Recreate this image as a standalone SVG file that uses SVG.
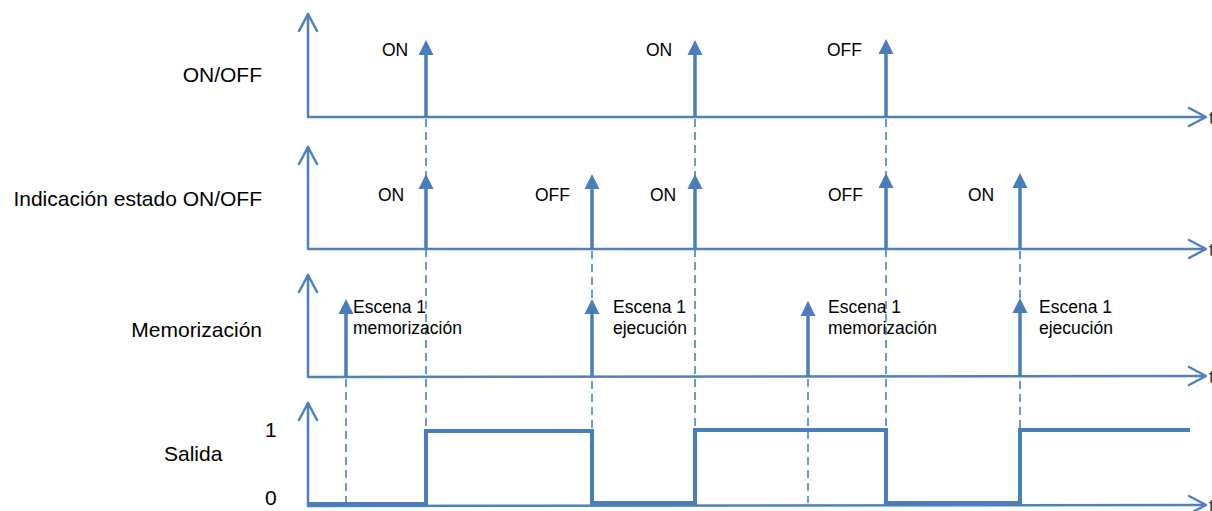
<svg xmlns="http://www.w3.org/2000/svg" xmlns:xlink="http://www.w3.org/1999/xlink" width="1212" height="511" viewBox="0 0 1212 511">
<style>
.ax{fill:none;stroke:#4f81bd;stroke-width:2.5;stroke-linecap:round;stroke-linejoin:round}
.pl{fill:none;stroke:#4a7dbb;stroke-width:3.5}
.out{fill:none;stroke:#4a7dbb;stroke-width:4;stroke-linejoin:miter}
.hd{fill:#4a7dbb}
.ds{fill:none;stroke:#6b9ad2;stroke-width:2;stroke-dasharray:8 5}
.lb{font-family:"Liberation Sans",Arial,Helvetica,sans-serif;font-size:21px;fill:#000}
.pt{font-family:"Liberation Sans",Arial,Helvetica,sans-serif;font-size:17.5px;fill:#000}
.tt{font-family:"Liberation Sans",Arial,Helvetica,sans-serif;font-size:18px;fill:#333}
</style>
<defs>
<path id="head" d="M0,0 L7.5,15 L-7.5,15 Z"/>
</defs>
<rect width="1212" height="511" fill="#fff"/>

<g id="connectors">
<line class="ds" x1="426" y1="119" x2="426" y2="431"/>
<line class="ds" x1="695" y1="119" x2="695" y2="431"/>
<line class="ds" x1="886" y1="119" x2="886" y2="431"/>
<line class="ds" x1="592" y1="251" x2="592" y2="431"/>
<line class="ds" x1="1020" y1="251" x2="1020" y2="431"/>
<line class="ds" x1="346" y1="379" x2="346" y2="503"/>
<line class="ds" x1="808" y1="379" x2="808" y2="503"/>
</g>

<g id="panel-onoff">
<text class="lb" x="262" y="82" text-anchor="end">ON/OFF</text>
<polyline class="ax" points="308,14 308,117 1205,117"/>
<polyline class="ax" points="299,31 308,14 317,31"/>
<polyline class="ax" points="1189,108 1206,117 1189,126"/>
<text class="tt" x="1209" y="124">t</text>
<line class="pl" x1="426" y1="117" x2="426" y2="50"/>
<use href="#head" class="hd" x="426" y="40"/>
<text class="pt" x="382" y="56">ON</text>
<line class="pl" x1="695" y1="117" x2="695" y2="50"/>
<use href="#head" class="hd" x="695" y="40"/>
<text class="pt" x="646" y="56">ON</text>
<line class="pl" x1="886" y1="117" x2="886" y2="50"/>
<use href="#head" class="hd" x="886" y="39"/>
<text class="pt" x="827" y="56">OFF</text>
</g>

<g id="panel-indicacion">
<text class="lb" x="262" y="206" text-anchor="end">Indicación estado ON/OFF</text>
<polyline class="ax" points="308,147 308,249 1205,249"/>
<polyline class="ax" points="299,164 308,147 317,164"/>
<polyline class="ax" points="1189,240 1206,249 1189,258"/>
<text class="tt" x="1209" y="256">t</text>
<line class="pl" x1="426" y1="249" x2="426" y2="184"/>
<use href="#head" class="hd" x="426" y="174"/>
<text class="pt" x="378" y="201">ON</text>
<line class="pl" x1="592" y1="249" x2="592" y2="184"/>
<use href="#head" class="hd" x="592" y="174"/>
<text class="pt" x="535" y="201">OFF</text>
<line class="pl" x1="695" y1="249" x2="695" y2="184"/>
<use href="#head" class="hd" x="695" y="174"/>
<text class="pt" x="650" y="201">ON</text>
<line class="pl" x1="886" y1="249" x2="886" y2="184"/>
<use href="#head" class="hd" x="886" y="173"/>
<text class="pt" x="828" y="201">OFF</text>
<line class="pl" x1="1020" y1="249" x2="1020" y2="184"/>
<use href="#head" class="hd" x="1020" y="173"/>
<text class="pt" x="968" y="201">ON</text>
</g>

<g id="panel-memorizacion">
<text class="lb" x="262" y="337" text-anchor="end">Memorización</text>
<polyline class="ax" points="308,275 308,377 1205,376"/>
<polyline class="ax" points="299,292 308,275 317,292"/>
<polyline class="ax" points="1189,367 1206,376 1189,385"/>
<text class="tt" x="1209" y="383">t</text>
<line class="pl" x1="346" y1="377" x2="346" y2="310"/>
<use href="#head" class="hd" x="346" y="299"/>
<text class="pt" x="353" y="313">Escena 1</text>
<text class="pt" x="353" y="334">memorización</text>
<line class="pl" x1="592" y1="377" x2="592" y2="310"/>
<use href="#head" class="hd" x="592" y="299"/>
<text class="pt" x="613" y="313">Escena 1</text>
<text class="pt" x="613" y="334">ejecución</text>
<line class="pl" x1="808" y1="377" x2="808" y2="312"/>
<use href="#head" class="hd" x="808" y="301"/>
<text class="pt" x="828" y="313">Escena 1</text>
<text class="pt" x="828" y="334">memorización</text>
<line class="pl" x1="1020" y1="376" x2="1020" y2="309"/>
<use href="#head" class="hd" x="1020" y="298"/>
<text class="pt" x="1039" y="313">Escena 1</text>
<text class="pt" x="1039" y="334">ejecución</text>
</g>

<g id="panel-salida">
<text class="lb" x="164" y="461">Salida</text>
<text class="lb" x="265" y="437">1</text>
<text class="lb" x="265" y="505">0</text>
<polyline class="ax" points="308,403 308,506 1205,505"/>
<polyline class="ax" points="299,420 308,403 317,420"/>
<polyline class="ax" points="1189,496 1206,505 1189,514"/>
<text class="tt" x="1209" y="512">t</text>
<polyline class="out" points="308,504 426,504 426,431 592,431 592,503 695,503 695,430 886,430 886,503 1020,503 1020,430 1190,430"/>
</g>
</svg>
